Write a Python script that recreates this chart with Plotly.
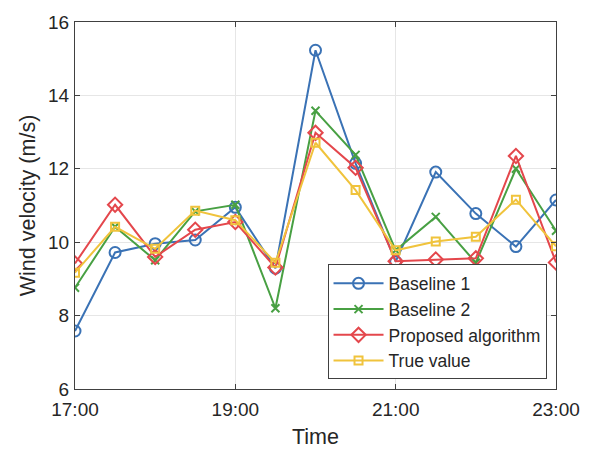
import plotly.graph_objects as go

times = ["17:00", "17:30", "18:00", "18:30", "19:00", "19:30", "20:00",
         "20:30", "21:00", "21:30", "22:00", "22:30", "23:00"]
baseline1 = [7.58, 9.72, 9.96, 10.06, 10.95, 9.29, 15.23, 12.15, 9.47, 11.91, 10.78, 9.88, 11.15]
baseline2 = [8.76, 10.42, 9.51, 10.84, 11.02, 8.2, 13.58, 12.38, 9.78, 10.69, 9.44, 12.0, 10.31]
proposed = [9.42, 11.02, 9.6, 10.34, 10.55, 9.31, 12.98, 12.03, 9.48, 9.53, 9.56, 12.35, 9.45]
true_val = [9.17, 10.42, 9.82, 10.86, 10.6, 9.44, 12.71, 11.42, 9.78, 10.02, 10.15, 11.16, 9.89]
tick_labels = ["17:00", "19:00", "21:00", "23:00"]
names = ["Baseline 1", "Baseline 2", "Proposed algorithm", "True value"]

def to_hours(t):
    h, m = t.split(":")
    return int(h) + int(m) / 60

x = [to_hours(t) for t in times]
tickvals = [to_hours(t) for t in tick_labels]

colors = ["#3a72b5", "#48a043", "#e4474c", "#f0c33c"]
symbols = ["circle-open", "x-thin-open", "diamond-open", "square-open"]
sizes = [11, 8, 11, 8]

FONT = "Liberation Sans"

fig = go.Figure()
for name, ys, c, s, sz in zip(names, [baseline1, baseline2, proposed, true_val], colors, symbols, sizes):
    fig.add_trace(go.Scatter(
        x=x, y=ys, name=name, mode="lines+markers",
        line=dict(color=c, width=2),
        marker=dict(symbol=s, size=sz, color=c, line=dict(color=c, width=2)),
    ))

axis_common = dict(
    showline=True, linecolor="#404040", linewidth=1, mirror="ticks",
    ticks="inside", ticklen=5, tickcolor="#404040",
    showgrid=True, gridcolor="#e6e6e6", gridwidth=1, zeroline=False,
    tickfont=dict(family=FONT, size=19, color="#262626"),
)

fig.update_layout(
    width=592, height=457,
    margin=dict(l=75, r=26, t=20, b=54),
    paper_bgcolor="white", plot_bgcolor="white",
    font=dict(family=FONT, color="#262626"),
    xaxis=dict(range=[17, 23], tickvals=tickvals, ticktext=tick_labels,
               ticklabelstandoff=3,
               title=dict(text="Time", font=dict(size=21.5), standoff=10), **axis_common),
    yaxis=dict(range=[6, 16], tickvals=[6, 8, 10, 12, 14, 16],
               ticklabelstandoff=1,
               title=dict(text="Wind velocity (m/s)", font=dict(size=21.5), standoff=6), **axis_common),
    legend=dict(x=0.525, y=0.026, xanchor="left", yanchor="bottom",
                bgcolor="white", bordercolor="#404040", borderwidth=1,
                font=dict(size=17.5, color="#262626"), tracegroupgap=0,
                itemwidth=50),
    showlegend=True,
)

fig.write_html(
    "out.html",
    config={"displayModeBar": False, "staticPlot": True},
    post_script=("document.documentElement.style.margin='0';"
                 "document.documentElement.style.overflow='hidden';"
                 "document.body.style.margin='0';"
                 "document.body.style.overflow='hidden';"),
)
